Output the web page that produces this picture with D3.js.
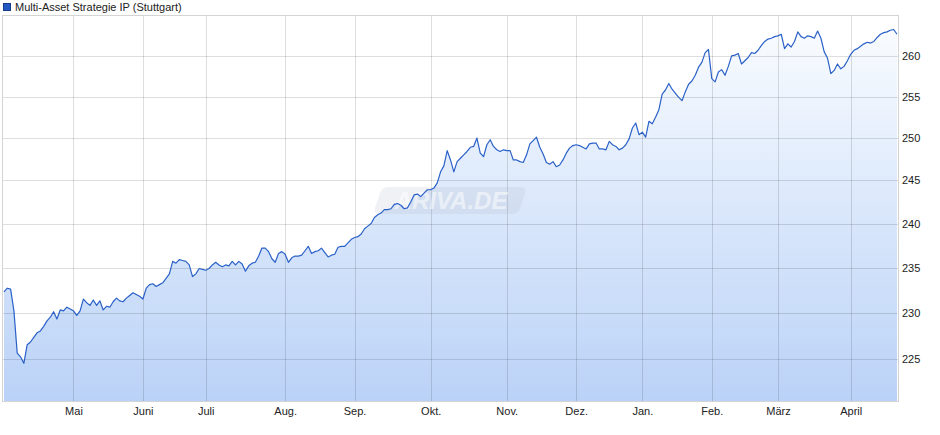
<!DOCTYPE html>
<html><head><meta charset="utf-8">
<script src="https://cdn.jsdelivr.net/npm/d3@7"></script>
<style>body{margin:0;background:#fff}svg{display:block;font-family:"Liberation Sans",Arial,sans-serif}</style>
</head><body>
<svg id="c" width="940" height="435"></svg>
<script>
const seriesName = "Multi-Asset Strategie IP (Stuttgart)";
const values = [
232.3,232.7,232.6,230.2,225.6,225.2,224.5,226.5,226.8,227.3,
227.8,228.0,228.5,229.1,229.5,230.1,229.3,230.3,230.2,230.6,
230.4,230.2,229.7,230.2,231.5,231.1,230.8,231.4,230.8,231.3,
230.3,230.7,230.6,231.2,231.6,231.3,231.2,231.6,231.9,232.2,
232.0,231.8,231.5,232.7,233.1,233.2,232.9,233.1,233.3,233.8,
234.3,235.7,235.5,235.9,235.8,235.7,235.3,234.0,234.3,234.9,
234.8,234.7,234.9,235.3,235.6,235.3,235.1,235.3,235.2,235.7,
235.3,235.7,235.4,234.6,235.2,235.5,235.6,236.3,237.2,237.2,
236.8,236.0,235.6,236.6,236.8,236.5,235.6,236.1,236.3,236.3,
236.4,236.9,237.4,236.6,236.8,236.9,237.2,236.7,236.2,236.4,
236.5,237.3,237.4,237.4,237.8,238.2,238.4,238.5,238.8,239.4,
239.7,240.0,240.7,241.0,241.2,241.6,241.6,241.7,242.2,242.3,
242.1,241.7,241.8,242.5,243.3,243.4,243.1,243.5,243.9,243.9,
244.1,244.7,246.0,246.7,248.5,247.4,246.0,247.2,247.6,248.0,
248.4,248.9,249.0,250.0,248.2,247.8,249.2,249.8,249.0,248.6,
248.4,248.6,248.5,248.5,247.4,247.4,247.2,247.1,248.0,249.3,
249.7,250.1,248.9,248.1,247.1,246.9,247.2,246.6,246.8,247.4,
248.2,248.8,249.1,249.2,249.1,248.9,248.7,249.3,249.4,249.4,
248.7,248.7,248.6,249.6,249.2,249.0,248.6,248.8,249.2,249.9,
251.2,251.8,250.4,250.7,250.1,252.0,251.7,252.5,253.4,255.3,
255.8,256.6,255.9,255.4,254.9,254.5,255.6,256.5,256.9,257.6,
258.6,259.2,260.4,260.8,257.2,256.8,258.0,258.3,257.6,258.7,
260.0,260.1,260.3,259.0,259.4,259.8,260.4,260.3,260.7,261.3,
261.8,262.1,262.2,262.4,262.5,262.7,260.9,261.5,261.1,261.8,
263.0,262.4,262.2,262.5,262.4,262.2,263.1,262.2,260.5,259.7,
257.8,258.2,259.0,258.4,258.7,259.4,260.2,260.7,260.9,261.2,
261.5,261.7,261.6,261.8,262.3,262.7,262.9,263.0,263.2,263.3,262.7
];
const monthLabels = ["Mai","Juni","Juli","Aug.","Sep.","Okt.","Nov.","Dez.","Jan.","Feb.","März","April"];
const monthIndex  = [21,42,61,85,106,129,152,173,193,214,234,256];
const yTicks = [225,230,235,240,245,250,255,260];

const svg = d3.select("#c");
const L = 3, R = 898, T = 16, B = 401;
const x = d3.scaleLinear().domain([0, values.length - 1]).range([4, 897]);
const y = d3.scaleLog().domain([220.5, 265]).range([B, T]);

const defs = svg.append("defs");
const g = defs.append("linearGradient").attr("id","fillg").attr("x1",0).attr("y1",0).attr("x2",0).attr("y2",1)
  .attr("gradientUnits","userSpaceOnUse").attr("x1",0).attr("y1",T).attr("x2",0).attr("y2",B);
g.append("stop").attr("offset","0%").attr("stop-color","#fbfdff");
g.append("stop").attr("offset","100%").attr("stop-color","#bad2f7");

// area
svg.append("path").datum(values)
  .attr("d", d3.area().x((d,i)=>x(i)).y0(B).y1(d=>y(d)))
  .attr("fill","url(#fillg)");

// grid
const grid = svg.append("g").attr("stroke","rgba(0,0,0,0.13)").attr("stroke-width",1);
yTicks.forEach(v=>{
  const yy = Math.round(y(v)) + 0.5;
  grid.append("line").attr("x1",L).attr("x2",R).attr("y1",yy).attr("y2",yy);
});
monthIndex.forEach(i=>{
  const xx = Math.round(x(i)) + 0.5;
  grid.append("line").attr("x1",xx).attr("x2",xx).attr("y1",T).attr("y2",B);
});

// watermark
const wm = svg.append("g").attr("transform","translate(0,0)");
wm.append("path").attr("d","M388,187 L520,187 Q527,187 525,193 L520,209 Q518,214 512,214 L380,214 Q373,214 375,208 L380,193 Q382,187 388,187 Z")
  .attr("fill","rgba(170,180,195,0.18)");
wm.append("text").attr("x",451).attr("y",209).attr("text-anchor","middle")
  .attr("font-size",24).attr("font-weight","bold").attr("font-style","italic")
  .attr("fill","rgba(255,255,255,0.55)").text("ARIVA.DE");

// line
svg.append("path").datum(values)
  .attr("d", d3.line().x((d,i)=>x(i)).y(d=>y(d)))
  .attr("fill","none").attr("stroke","#2a61c8").attr("stroke-width",1.2).attr("stroke-linejoin","round");

// frame
svg.append("rect").attr("x",L-0.5).attr("y",T-0.5).attr("width",R-L+1).attr("height",B-T+1)
  .attr("fill","none").attr("stroke","#d4d4d4");

// y axis labels
const ya = svg.append("g").attr("transform",`translate(${R},0)`)
  .call(d3.axisRight(y).tickValues(yTicks).tickFormat(d3.format("d")).tickSize(0).tickPadding(4));
ya.select(".domain").remove();
ya.selectAll("text").attr("font-size",11).attr("fill","#222").attr("font-family","Liberation Sans, Arial, sans-serif");

// x axis labels
const xa = svg.append("g").attr("transform",`translate(0,${B})`)
  .call(d3.axisBottom(x).tickValues(monthIndex).tickFormat((d,i)=>monthLabels[i]).tickSize(0).tickPadding(6));
xa.select(".domain").remove();
xa.selectAll("text").attr("font-size",11).attr("fill","#222").attr("font-family","Liberation Sans, Arial, sans-serif");

// legend
svg.append("rect").attr("x",3.5).attr("y",3.5).attr("width",7).attr("height",7)
  .attr("fill","#2258c2").attr("stroke","#163c8a");
svg.append("text").attr("x",15).attr("y",11).attr("font-size",11).attr("fill","#222").text(seriesName);
</script>
</body></html>
